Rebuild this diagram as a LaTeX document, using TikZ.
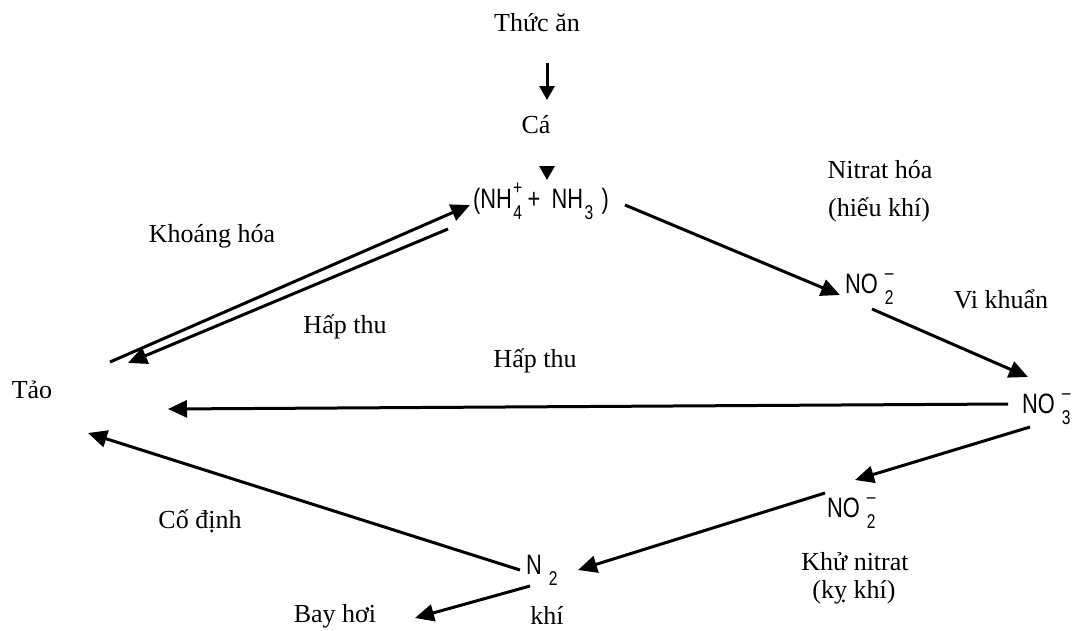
\documentclass[tikz,border=0pt]{standalone}
\usepackage{fontspec}
\setmainfont{Liberation Serif}
\newfontfamily\chemfont[FakeStretch=0.78]{Liberation Sans}
\usetikzlibrary{arrows.meta}
% lowered index digit with an optional charge sign stacked above it
\newcommand\ionsub[3][0.25em]{\hspace{#1}\raisebox{-0.4em}{\fontsize{20}{20}\selectfont\ooalign{#2\cr\hidewidth\raisebox{1.25em}{#3}\hidewidth\cr}}}
\begin{document}
\begin{tikzpicture}[x=1pt,y=-1pt,
  lbl/.style={font=\fontsize{26}{30}\selectfont, inner sep=0pt, anchor=base},
  chem/.style={font=\chemfont\fontsize{28}{30}\selectfont, inner sep=0pt, anchor=base west},
  flow/.style={line width=3pt, -{Triangle[length=19pt,width=17pt]}},
  shortflow/.style={line width=3pt, -{Triangle[length=14pt,width=15pt]}}]
\useasboundingbox (0,0) rectangle (1082,630);

% species
\node[lbl]  (food)     at (537,31)   {Thức ăn};
\node[lbl]  (fish)     at (536,133)  {Cá};
\node[chem] (amm)      at (473,208)  {(NH\ionsub[0.05em]{4}{+}\hspace{0.2em}+\hspace{0.4em}NH\ionsub[0.05em]{3}{}\hspace{0.3em})};
\node[chem] (nitrite)  at (845,293)  {NO\ionsub{2}{–}};
\node[chem] (nitrate)  at (1022,413) {NO\ionsub{3}{–}};
\node[chem] (nitrite2) at (827,517)  {NO\ionsub{2}{–}};
\node[chem] (ntwo)     at (526,574)  {N\ionsub{2}{}};
\node[lbl]  (algae)    at (32,398)   {Tảo};

% process labels
\node[lbl] (mineral) at (212,242) {Khoáng hóa};
\node[lbl] (uptake1) at (345,333) {Hấp thu};
\node[lbl] (uptake2) at (535,367) {Hấp thu};
\node[lbl] (nitrif)  at (880,178) {Nitrat hóa};
\node[lbl] (aerob)   at (879,216) {(hiếu khí)};
\node[lbl] (bact)    at (1001,308) {Vi khuẩn};
\node[lbl] (fix)     at (200,528) {Cố định};
\node[lbl] (volat)   at (335,622) {Bay hơi};
\node[lbl] (gas)     at (547,624) {khí};
\node[lbl] (denit)   at (855,570) {Khử nitrat};
\node[lbl] (anaer)   at (854,598) {(kỵ khí)};

% connector ends
\coordinate (food-out)    at (547,63);
\coordinate (fish-in)     at (547,100);
\coordinate (fish-out)    at (547,166);
\coordinate (amm-top)     at (547,180);
\coordinate (algae-up)    at (110,362);
\coordinate (amm-in)      at (470,205);
\coordinate (amm-down)    at (448,229);
\coordinate (algae-in1)   at (128,363);
\coordinate (amm-out)     at (625,205);
\coordinate (nitrite-in)  at (840,295);
\coordinate (nitrite-out) at (872,309);
\coordinate (nitrate-in)  at (1028,377);
\coordinate (nitrate-w)   at (1008,404);
\coordinate (algae-in2)   at (168,409);
\coordinate (nitrate-s)   at (1030,427);
\coordinate (nitrite2-in) at (855,480);
\coordinate (nitrite2-out) at (825,493);
\coordinate (ntwo-in)     at (578,570);
\coordinate (ntwo-nw)     at (520,570);
\coordinate (algae-in3)   at (88,433);
\coordinate (ntwo-sw)     at (530,586);
\coordinate (volat-in)    at (415,618);

% flows
\draw[shortflow] (food-out) -- (fish-in);
\draw[shortflow] (fish-out) -- (amm-top);
\draw[flow] (algae-up) -- (amm-in);
\draw[flow] (amm-down) -- (algae-in1);
\draw[flow] (amm-out) -- (nitrite-in);
\draw[flow] (nitrite-out) -- (nitrate-in);
\draw[flow] (nitrate-w) -- (algae-in2);
\draw[flow] (nitrate-s) -- (nitrite2-in);
\draw[flow] (nitrite2-out) -- (ntwo-in);
\draw[flow] (ntwo-nw) -- (algae-in3);
\draw[flow] (ntwo-sw) -- (volat-in);
\end{tikzpicture}
\end{document}
